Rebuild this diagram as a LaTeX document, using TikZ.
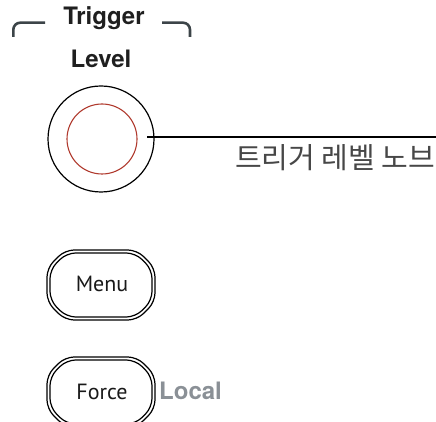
\documentclass[tikz,border=0pt]{standalone}
\usepackage{fontspec}
\setmainfont{TeX Gyre Heros}
\newfontfamily\hbold{texgyreheros-bold.otf}
\newfontfamily\btnfont{PT Sans}
\newfontfamily\cjk{Noto Sans CJK KR}
\definecolor{knobred}{HTML}{B03A2E}
\definecolor{bracketgray}{HTML}{3C4448}
\definecolor{localgray}{HTML}{8A9096}
\begin{document}
\begin{tikzpicture}[x=1pt,y=1pt,
  btnline/.style={draw=black,line width=1.2pt,rounded corners=9pt},
  boldlabel/.style={font=\hbold\fontsize{24}{28}\selectfont,inner sep=0pt,text=black!88},
  btntext/.style={font=\btnfont\fontsize{22}{26}\selectfont,inner sep=0pt,text=black!90},
  bracket/.style={draw=bracketgray,line width=2.6pt,rounded corners=7pt},
  btnouter/.pic={\draw[btnline] (-54,-17) -- (-36,-35) -- (36,-35) -- (54,-17) -- (54,17) -- (36,35) -- (-36,35) -- (-54,17) -- cycle;},
  btninner/.pic={\draw[btnline] (-51,-15.5) -- (-34.5,-32) -- (34.5,-32) -- (51,-15.5) -- (51,15.5) -- (34.5,32) -- (-34.5,32) -- (-51,15.5) -- cycle;}]
\useasboundingbox (0,0) rectangle (436,422);
\clip (0,0) rectangle (436,422);
% title
\node[boldlabel,anchor=base] (trigger) at (104,422-24.5) {Trigger};
\draw[bracket] (13.3,422-37) -- (13.3,422-22.7) -- (45,422-22.7);
\draw[bracket] (162,422-22.7) -- (190,422-22.7) -- (190,422-37);
\node[boldlabel,anchor=base] (level) at (101,422-67.5) {Level};
% knob
\node[draw=black,line width=1.2pt,circle,minimum size=106pt,inner sep=0pt] (knob) at (101,422-139) {};
\node[draw=knobred,line width=1.1pt,circle,minimum size=70pt,inner sep=0pt] (knobin) at (102,422-139) {};
\coordinate (lstart) at (147,422-137);
\coordinate (lend) at (436,422-137);
\draw[line width=1.2pt] (lstart) -- (lend);
\node[font=\cjk\fontsize{29}{32}\selectfont,inner sep=0pt,anchor=east,text=black!72] (knoblabel) at (435,422-157.5) {트리거 레벨 노브};
% buttons
\pic at (101,422-285) {btnouter};
\pic at (101,422-285) {btninner};
\node[btntext] (menu) at (102,422-284) {Menu};
\pic at (101,422-392) {btnouter};
\pic at (101,422-392) {btninner};
\node[btntext] (force) at (102,422-392) {Force};
\node[boldlabel,anchor=base west,text=localgray] (local) at (159,422-400) {Local};
\end{tikzpicture}
\end{document}
